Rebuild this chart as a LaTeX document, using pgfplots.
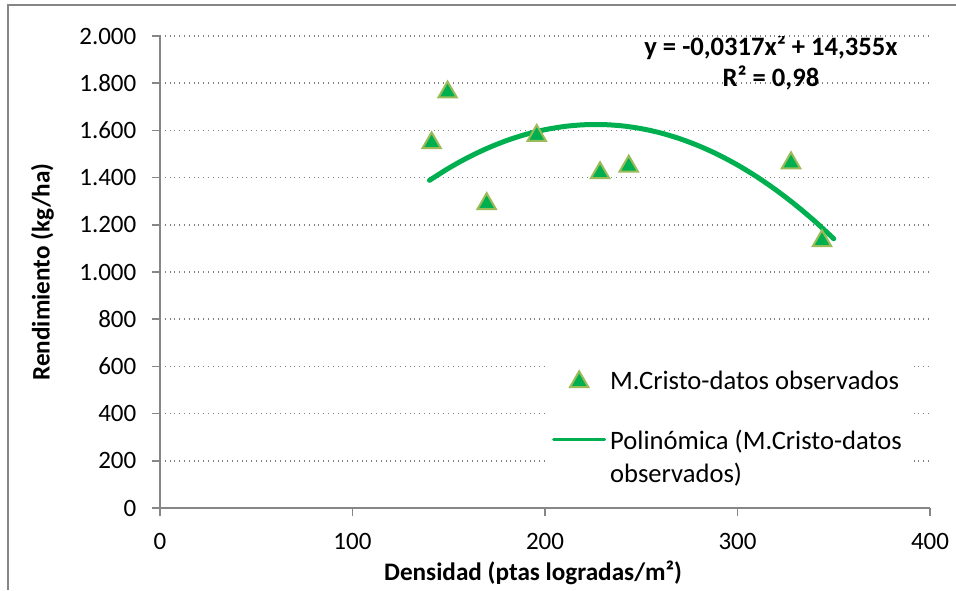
\documentclass[border=0pt]{standalone}
\usepackage{pgfplots}
\pgfplotsset{compat=1.18}
\usepackage{fontspec}
\setmainfont{Carlito}
\definecolor{mgreen}{HTML}{00B050}
\definecolor{mborder}{HTML}{9BBB59}
\definecolor{framegray}{HTML}{868686}
\pgfplotsset{
  markleg/.style={legend image code/.code={\draw[##1] plot coordinates {(12.75pt,0pt)};}},
  lineleg/.style={legend image code/.code={\draw[mgreen, line width=1.5pt] (0pt,0pt) -- (25.5pt,0pt);}},
}
\begin{document}
\begin{tikzpicture}[font=\fontsize{12.6pt}{15pt}\selectfont]
\path[use as bounding box] (0,0) rectangle (478pt,295pt);
\draw[framegray, line width=1pt] (4pt,0) -- (4pt,292.5pt) -- (478pt,292.5pt);
\begin{axis}[
  at={(80pt,41pt)}, anchor=south west,
  scale only axis, width=385pt, height=236pt,
  xmin=0, xmax=400, ymin=0, ymax=2000,
  xtick={0,100,...,400}, ytick={0,200,...,2000},
  axis x line*=bottom, axis y line*=left,
  axis line style={framegray, line width=0.75pt, -},
  tick align=outside, major tick length=4pt,
  tick style={framegray, line width=0.75pt},
  ymajorgrids, grid style={gray, dotted, line width=0.75pt},
  /pgf/number format/assume math mode=true,
  ticklabel style={font=\fontsize{12.5pt}{15pt}\selectfont},
  yticklabel style={/pgf/number format/1000 sep={.}, xshift=-4.3pt},
  xticklabel style={yshift=-5.3pt},
  xlabel={\textbf{Densidad (ptas logradas/m²)}},
  ylabel={\textbf{Rendimiento (kg/ha)}},
  xlabel style={at={(rel axis cs:0.5,0)}, anchor=center, yshift=-32.5pt, xshift=-6pt},
  ylabel style={at={(rel axis cs:0,0.5)}, anchor=center, yshift=58.75pt},
  legend cell align=left,
  legend style={at={(rel axis cs:0.501,0.312)}, anchor=north west,
    draw=none, fill=white, row sep=13pt, inner sep=3pt,
    font=\fontsize{13.3pt}{16pt}\selectfont,
    nodes={inner sep=2pt}},
]
\addplot[only marks, mark=triangle*, mark size=5.3pt,
  mark options={fill=mgreen, draw=mborder, line width=1pt}, markleg]
  coordinates {(141.1,1547) (149.4,1762) (169.7,1289) (195.7,1578)
               (228.6,1420) (243.5,1448) (327.8,1462) (343.9,1132)};
\addlegendentry{M.Cristo-datos observados}
\addplot[mgreen, line width=2.5pt, line cap=round, smooth, lineleg]
  coordinates {(140,1388.4) (150,1440.0) (160,1485.3) (170,1524.2) (180,1556.8)
    (190,1583.1) (200,1603.0) (210,1616.6) (220,1623.8) (230,1624.7)
    (240,1619.3) (250,1607.5) (260,1589.4) (270,1564.9) (280,1534.1)
    (290,1497.0) (300,1453.5) (310,1403.7) (320,1347.5) (330,1285.0)
    (340,1216.2) (350,1141.0)};
\addlegendentry{\begin{tabular}[t]{@{}l@{}}Polinómica (M.Cristo-datos\\[0.5pt]observados)\end{tabular}}
\node[font=\fontsize{13.3pt}{15.5pt}\selectfont\bfseries, align=center]
  at (axis cs:317.4,1888) {y = -0,0317x² + 14,355x\\R² = 0,98};
\end{axis}
\end{tikzpicture}
\end{document}
